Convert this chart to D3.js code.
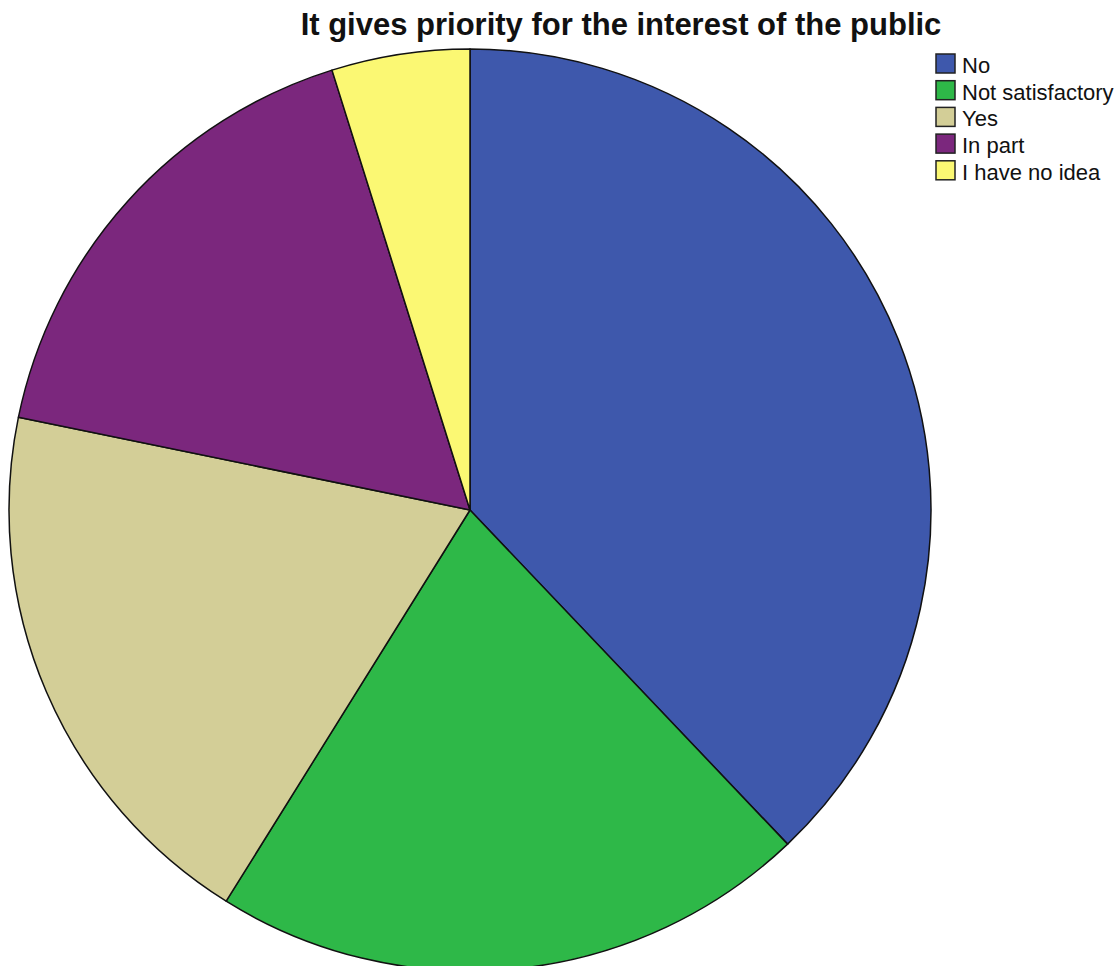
<!DOCTYPE html>
<html>
<head>
<meta charset="utf-8">
<script src="https://cdn.jsdelivr.net/npm/d3@7"></script>
<style>
  html, body { margin: 0; padding: 0; background: #fff; }
  svg { display: block; }
</style>
</head>
<body>
<svg id="chart" width="1119" height="966"></svg>
<script>
// Response categories and counts
const categories = ["No", "Not satisfactory", "Yes", "In part", "I have no idea"];
const counts = [47, 26, 24, 21, 6];
const colors = ["#3E58AC", "#2EB848", "#D3CE97", "#7B277D", "#FBF873"];
const title = "It gives priority for the interest of the public";

const svg = d3.select("#chart");
const cx = 470, cy = 510, radius = 461;

const pie = d3.pie().sort(null).value(d => d.value);
const arc = d3.arc().innerRadius(0).outerRadius(radius);
const data = categories.map((c, i) => ({ name: c, value: counts[i], color: colors[i] }));

svg.append("g")
  .attr("transform", `translate(${cx},${cy})`)
  .selectAll("path")
  .data(pie(data))
  .join("path")
  .attr("d", arc)
  .attr("fill", d => d.data.color)
  .attr("stroke", "#111")
  .attr("stroke-width", 1.5)
  .attr("stroke-linejoin", "round");

svg.append("text")
  .attr("x", 621)
  .attr("y", 35)
  .attr("text-anchor", "middle")
  .attr("font-family", "Liberation Sans, Arial, sans-serif")
  .attr("font-weight", "bold")
  .attr("font-size", 31)
  .attr("fill", "#111")
  .text(title);

const legend = svg.append("g").attr("transform", "translate(935,53)");
const rows = legend.selectAll("g")
  .data(data)
  .join("g")
  .attr("transform", (d, i) => `translate(0,${i * 26.7})`);
rows.append("rect")
  .attr("x", 1).attr("y", 1)
  .attr("width", 19).attr("height", 19)
  .attr("fill", d => d.color)
  .attr("stroke", "#222").attr("stroke-width", 1.5);
rows.append("text")
  .attr("x", 27).attr("y", 20)
  .attr("font-family", "Liberation Sans, Arial, sans-serif")
  .attr("font-size", 22)
  .attr("fill", "#111")
  .text(d => d.name);
</script>
</body>
</html>
